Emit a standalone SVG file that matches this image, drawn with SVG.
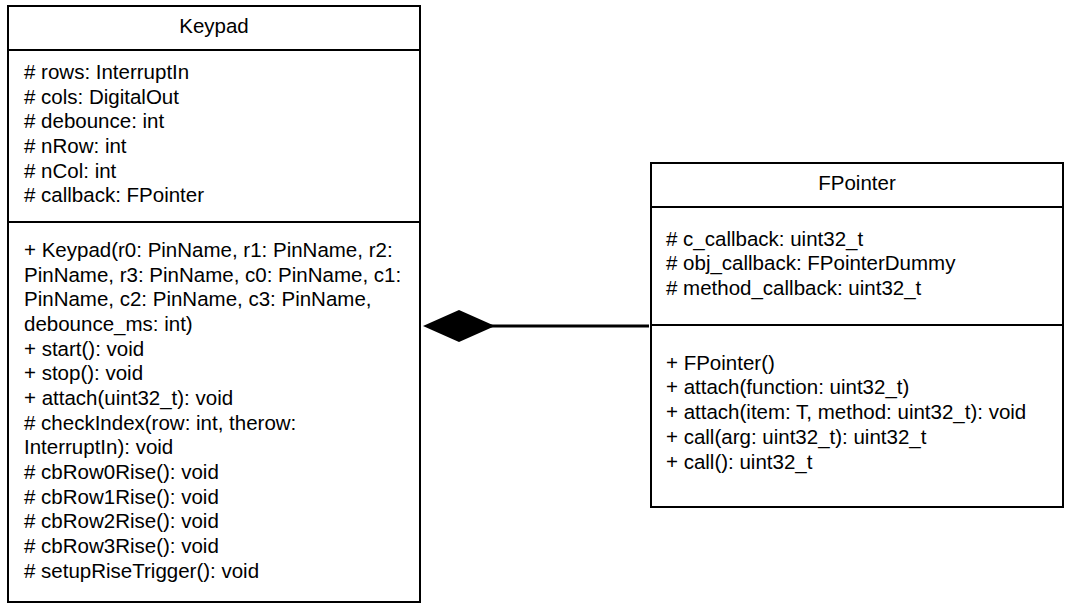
<svg xmlns="http://www.w3.org/2000/svg" width="1080" height="614" viewBox="0 0 1080 614">
  <style>
    .box { fill: #ffffff; stroke: #000000; stroke-width: 2; }
    .sep { stroke: #000000; stroke-width: 2; }
    .t { font-family: "Liberation Sans", Arial, sans-serif; font-size: 20.5px; fill: #000000; }
    .title { text-anchor: middle; }
    .conn { stroke: #000000; stroke-width: 3; fill: none; }
  </style>
  <rect width="1080" height="614" fill="#ffffff"/>

  <!-- Keypad class -->
  <g id="keypad">
    <rect class="box" x="8" y="6" width="412" height="596"/>
    <line class="sep" x1="8" y1="50" x2="420" y2="50"/>
    <line class="sep" x1="8" y1="222" x2="420" y2="222"/>
    <text class="t title" x="214" y="33">Keypad</text>
    <text class="t" x="24" y="79"># rows: InterruptIn</text>
    <text class="t" x="24" y="104"># cols: DigitalOut</text>
    <text class="t" x="24" y="128"># debounce: int</text>
    <text class="t" x="24" y="153"># nRow: int</text>
    <text class="t" x="24" y="178"># nCol: int</text>
    <text class="t" x="24" y="202"># callback: FPointer</text>
    <text class="t" x="24" y="257">+ Keypad(r0: PinName, r1: PinName, r2:</text>
    <text class="t" x="24" y="282">PinName, r3: PinName, c0: PinName, c1:</text>
    <text class="t" x="24" y="306">PinName, c2: PinName, c3: PinName,</text>
    <text class="t" x="24" y="331">debounce_ms: int)</text>
    <text class="t" x="24" y="356">+ start(): void</text>
    <text class="t" x="24" y="380">+ stop(): void</text>
    <text class="t" x="24" y="405">+ attach(uint32_t): void</text>
    <text class="t" x="24" y="430"># checkIndex(row: int, therow:</text>
    <text class="t" x="24" y="454">InterruptIn): void</text>
    <text class="t" x="24" y="479"># cbRow0Rise(): void</text>
    <text class="t" x="24" y="504"># cbRow1Rise(): void</text>
    <text class="t" x="24" y="528"># cbRow2Rise(): void</text>
    <text class="t" x="24" y="553"># cbRow3Rise(): void</text>
    <text class="t" x="24" y="578"># setupRiseTrigger(): void</text>
  </g>

  <!-- FPointer class -->
  <g id="fpointer">
    <rect class="box" x="651" y="163" width="412" height="344"/>
    <line class="sep" x1="651" y1="207" x2="1063" y2="207"/>
    <line class="sep" x1="651" y1="325" x2="1063" y2="325"/>
    <text class="t title" x="857" y="190">FPointer</text>
    <text class="t" x="666" y="246"># c_callback: uint32_t</text>
    <text class="t" x="666" y="270"># obj_callback: FPointerDummy</text>
    <text class="t" x="666" y="295"># method_callback: uint32_t</text>
    <text class="t" x="666" y="370">+ FPointer()</text>
    <text class="t" x="666" y="394">+ attach(function: uint32_t)</text>
    <text class="t" x="666" y="419">+ attach(item: T, method: uint32_t): void</text>
    <text class="t" x="666" y="444">+ call(arg: uint32_t): uint32_t</text>
    <text class="t" x="666" y="469">+ call(): uint32_t</text>
  </g>

  <!-- composition connector -->
  <g id="connectors">
    <line class="conn" x1="490" y1="326" x2="649" y2="326"/>
    <polygon points="423,326 459,310 495,326 459,342" fill="#000000"/>
  </g>
</svg>
